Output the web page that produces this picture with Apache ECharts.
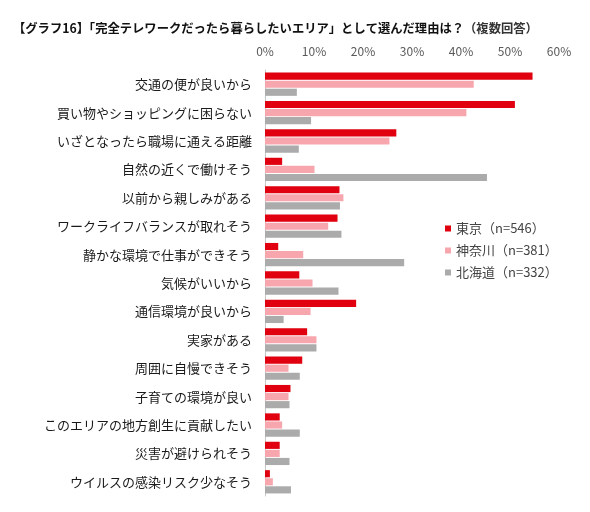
<!DOCTYPE html>
<html>
<head>
<meta charset="utf-8">
<script src="https://cdn.jsdelivr.net/npm/echarts@6/dist/echarts.min.js"></script>
<style>
  html, body { margin: 0; padding: 0; background: #fff; }
  #chart { width: 590px; height: 512px; }
</style>
</head>
<body>
<div id="chart"></div>
<script>
// 理由の項目
const categories = [
  '交通の便が良いから',
  '買い物やショッピングに困らない',
  'いざとなったら職場に通える距離',
  '自然の近くで働けそう',
  '以前から親しみがある',
  'ワークライフバランスが取れそう',
  '静かな環境で仕事ができそう',
  '気候がいいから',
  '通信環境が良いから',
  '実家がある',
  '周囲に自慢できそう',
  '子育ての環境が良い',
  'このエリアの地方創生に貢献したい',
  '災害が避けられそう',
  'ウイルスの感染リスク少なそう'
];

const seriesNames = ['東京（n=546）', '神奈川（n=381）', '北海道（n=332）'];

// 各エリアの割合 (%)
const tokyo    = [54.6, 51.0, 26.8, 3.5, 15.2, 14.8, 2.7, 7.0, 18.6, 8.6, 7.6, 5.2, 3.0, 3.0, 1.0];
const kanagawa = [42.6, 41.1, 25.4, 10.1, 16.0, 12.9, 7.8, 9.7, 9.3, 10.5, 4.8, 4.8, 3.5, 3.0, 1.6];
const hokkaido = [6.5, 9.4, 6.9, 45.3, 15.3, 15.6, 28.4, 15.0, 3.8, 10.5, 7.1, 5.0, 7.1, 5.0, 5.3];

const colors = ['#e0000f', '#f7a6ae', '#ababab'];

const chart = echarts.init(document.getElementById('chart'));

const option = {
  animation: false,
  title: {
    text: '{b|【グラフ16】「完全テレワークだったら暮らしたいエリア」として選んだ理由は？}{n|（複数回答）}',
    left: 8,
    top: 17,
    textStyle: {
      rich: {
        b: { fontFamily: 'Noto Sans CJK JP', fontSize: 12.3, fontWeight: 'bold', color: '#111' },
        n: { fontFamily: 'Noto Sans CJK JP', fontSize: 12.3, color: '#333' }
      }
    }
  },
  legend: {
    data: seriesNames,
    orient: 'vertical',
    left: 440,
    top: 217,
    icon: 'rect',
    itemWidth: 6,
    itemHeight: 6,
    itemGap: 9,
    textStyle: { fontFamily: 'Noto Sans CJK JP', fontSize: 13, color: '#444' }
  },
  grid: {
    left: 265,
    top: 70,
    width: 294,
    height: 426
  },
  xAxis: {
    type: 'value',
    position: 'top',
    min: 0,
    max: 60,
    interval: 10,
    axisLine: { show: false },
    axisTick: { show: false },
    splitLine: { show: false },
    axisLabel: {
      formatter: '{value}%',
      fontFamily: 'Noto Sans CJK JP',
      fontSize: 12,
      color: '#595959',
      margin: 13
    }
  },
  yAxis: {
    type: 'category',
    data: categories,
    inverse: true,
    axisLine: { show: true, lineStyle: { color: '#c8c8c8', width: 1 } },
    axisTick: { show: false },
    axisLabel: {
      fontFamily: 'Noto Sans CJK JP',
      fontSize: 13,
      color: '#1a1a1a',
      margin: 13
    }
  },
  series: [
    { name: seriesNames[0], type: 'bar', data: tokyo, itemStyle: { color: colors[0] }, barGap: '13%', barCategoryGap: '18%' },
    { name: seriesNames[1], type: 'bar', data: kanagawa, itemStyle: { color: colors[1] }, barGap: '13%', barCategoryGap: '18%' },
    { name: seriesNames[2], type: 'bar', data: hokkaido, itemStyle: { color: colors[2] }, barGap: '13%', barCategoryGap: '18%' }
  ]
};

chart.setOption(option);
</script>
</body>
</html>
